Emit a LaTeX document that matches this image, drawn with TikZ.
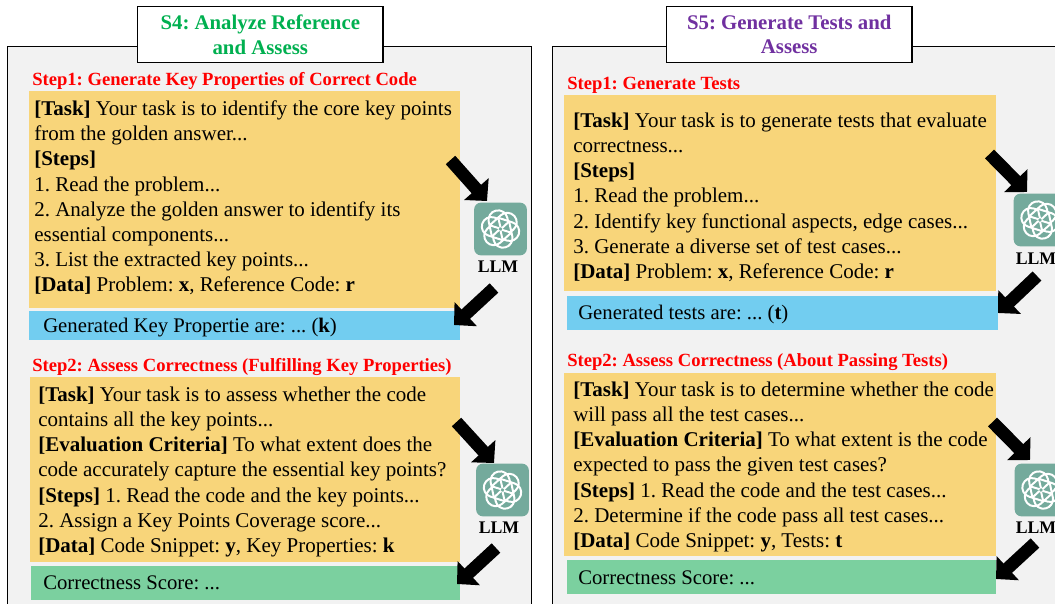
\documentclass[tikz,border=0pt]{standalone}
\usepackage{fontspec}
\setmainfont{Liberation Serif}
\frenchspacing
\usetikzlibrary{arrows.meta,calc}
\definecolor{panelgray}{HTML}{F2F2F2}
\definecolor{promptyellow}{HTML}{F8D57A}
\definecolor{outblue}{HTML}{72CDF0}
\definecolor{outgreen}{HTML}{7BD09F}
\definecolor{logoteal}{HTML}{74AA9C}
\definecolor{titlegreen}{HTML}{00B050}
\definecolor{titlepurple}{HTML}{7030A0}
\tikzset{
 panelbox/.style={draw=black,line width=0.75pt},
 titlebox/.style={draw=black,line width=0.9pt,fill=white,minimum width=184pt,minimum height=42pt,inner sep=0,anchor=north west,align=center,font=\fontsize{15.6}{18.4}\selectfont\bfseries},
 body/.style={anchor=north west,inner sep=0,align=left,font=\fontsize{15.75}{18.9}\selectfont},
 outtext/.style={anchor=west,inner sep=0,font=\fontsize{15.55}{17}\selectfont},
 steptitle/.style={anchor=west,inner sep=0,text=red,font=\fontsize{13.95}{15}\selectfont\bfseries},
 bigarrow/.style={-{Triangle[length=12pt,width=24pt]},line width=9.5pt,black},
 logobox/.style={fill=logoteal,rounded corners=5pt,minimum width=39.5pt,minimum height=39.5pt,inner sep=0,anchor=center},
 llm/.style={anchor=center,inner sep=0,font=\fontsize{13.3}{14}\selectfont\bfseries},
 knot/.style={draw=white,line width=1.5pt,line join=round},
}
\newcommand{\logomark}[3]{%
 \node[logobox] (#1) at (#2,#3) {};
 \foreach \a in {0,60,...,300}{%
  \draw[knot,shift={(#1.center)},rotate=\a+12] (-10,5) -- (-10,-9.5) arc[start angle=180,end angle=360,radius=9.5] -- (9,-5) -- (1.5,-0.5);
 }}
\begin{document}
\begin{tikzpicture}[x=0.75pt,y=-0.75pt]
\useasboundingbox (0,0) rectangle (1055,603);
% panels
\path[panelbox,fill=panelgray] (7,46) rectangle (531,610);
\path[panelbox,fill=panelgray] (552,46) rectangle (1062,610);
\node[titlebox,text=titlegreen] (t4) at (137,6) {S4: Analyze Reference\\and Assess};
\node[titlebox,text=titlepurple] (t5) at (666,6) {S5: Generate Tests and\\Assess};
% left column
\node[steptitle] (ls1) at (32,81) {Step1: Generate Key Properties of Correct Code};
\fill[promptyellow] (29,91) rectangle (460,308);
\node[body] (lt1) at (34,100.5) {\textbf{[Task]} Your task is to identify the core key points\\
from the golden answer...\\
\textbf{[Steps]}\\
1. Read the problem...\\
2. Analyze the golden answer to identify its\\
essential components...\\
3. List the extracted key points...\\
\textbf{[Data]} Problem: \textbf{x}, Reference Code: \textbf{r}};
\fill[outblue] (29,311) rectangle (460,340);
\node[outtext] (lo1) at (43,328) {Generated Key Propertie are: ... (\textbf{k})};
\node[steptitle] (ls2) at (32,367) {Step2: Assess Correctness (Fulfilling Key Properties)};
\fill[promptyellow] (30,377) rectangle (460,562);
\node[body] (lt2) at (38,386.5) {\textbf{[Task]} Your task is to assess whether the code\\
contains all the key points...\\
\textbf{[Evaluation Criteria]} To what extent does the\\
code accurately capture the essential key points?\\
\textbf{[Steps]} 1. Read the code and the key points...\\
2. Assign a Key Points Coverage score...\\
\textbf{[Data]} Code Snippet: \textbf{y}, Key Properties: \textbf{k}};
\fill[outgreen] (31,566) rectangle (460,600);
\node[outtext] (lo2) at (43,583) {Correctness Score: ...};
% right column
\node[steptitle] (rs1) at (567,85) {Step1: Generate Tests};
\fill[promptyellow] (564,95) rectangle (996,291);
\node[body] (rt1) at (573,112.5) {\textbf{[Task]} Your task is to generate tests that evaluate\\
correctness...\\
\textbf{[Steps]}\\
1. Read the problem...\\
2. Identify key functional aspects, edge cases...\\
3. Generate a diverse set of test cases...\\
\textbf{[Data]} Problem: \textbf{x}, Reference Code: \textbf{r}};
\fill[outblue] (567,296) rectangle (998,330);
\node[outtext] (ro1) at (578,315) {Generated tests are: ... (\textbf{t})};
\node[steptitle] (rs2) at (567,362) {Step2: Assess Correctness (About Passing Tests)};
\fill[promptyellow] (564,373) rectangle (996,556);
\node[body] (rt2) at (573,381.5) {\textbf{[Task]} Your task is to determine whether the code\\
will pass all the test cases...\\
\textbf{[Evaluation Criteria]} To what extent is the code\\
expected to pass the given test cases?\\
\textbf{[Steps]} 1. Read the code and the test cases...\\
2. Determine if the code pass all test cases...\\
\textbf{[Data]} Code Snippet: \textbf{y}, Tests: \textbf{t}};
\fill[outgreen] (567,560) rectangle (996,594);
\node[outtext] (ro2) at (578,578) {Correctness Score: ...};
% logos
\logomark{l1}{500.5}{229}
\node[llm] (ll1) at (498,267) {LLM};
\logomark{l2}{502.5}{490}
\node[llm] (ll2) at (499,528) {LLM};
\logomark{r1}{1040}{220}
\node[llm] (lr1) at (1036,259) {LLM};
\logomark{r2}{1041}{490}
\node[llm] (lr2) at (1036,528) {LLM};
% arrow ends
\coordinate (a1s) at (450.5,160); \coordinate (a1e) at (487,201);
\coordinate (a2s) at (494,288); \coordinate (a2e) at (454,325);
\coordinate (a3s) at (456.5,422); \coordinate (a3e) at (494,463);
\coordinate (a4s) at (496,548); \coordinate (a4e) at (457,584);
\coordinate (a5s) at (989.5,154); \coordinate (a5e) at (1027,192);
\coordinate (a6s) at (1037,276); \coordinate (a6e) at (998,313);
\coordinate (a7s) at (992.5,422); \coordinate (a7e) at (1030,460);
\coordinate (a8s) at (1035,543); \coordinate (a8e) at (996,579);
\foreach \s/\e in {a1s/a1e,a2s/a2e,a3s/a3e,a4s/a4e,a5s/a5e,a6s/a6e,a7s/a7e,a8s/a8e}
 \draw[bigarrow] (\s) -- (\e);
\end{tikzpicture}
\end{document}
